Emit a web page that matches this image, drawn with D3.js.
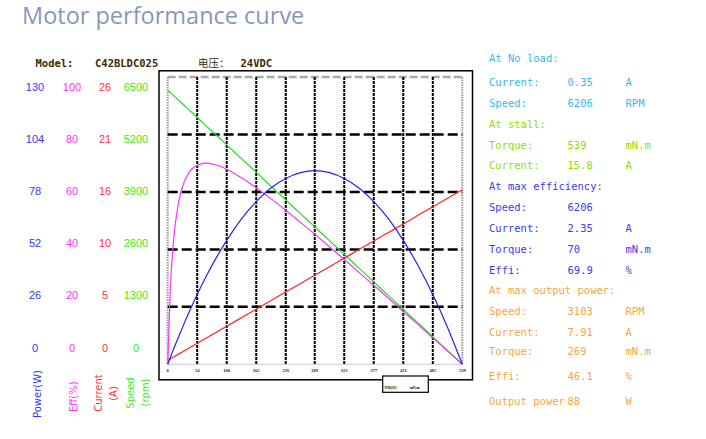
<!DOCTYPE html>
<html><head><meta charset="utf-8">
<script src="https://cdn.jsdelivr.net/npm/d3@7"></script>
<style>html,body{margin:0;padding:0;background:#fff;}svg{display:block;}</style>
</head><body>
<svg id="chart" width="706" height="439"></svg>
<script>
// ---- data ----
const torque      = [0,5,10,20,30,40,54,70,90,108,135,162,190,216,243,269,296,323,350,377,404,431,458,485,512,539];
const powerW      = [0,3.2,6.4,12.5,18.4,24.1,31.6,39.6,48.7,56.1,65.8,73.6,80.0,84.1,86.7,87.6,86.7,84.1,79.8,73.6,65.8,56.1,44.7,31.6,16.7,0];
const effPct      = [0,27.2,41.7,56.5,63.4,67.0,69.3,70.0,69.3,67.9,64.9,61.4,57.5,53.6,49.4,45.3,40.9,36.5,32.0,27.5,23.0,18.4,13.8,9.2,4.6,0];
const currentA    = [0.35,0.49,0.64,0.92,1.21,1.50,1.90,2.36,2.93,3.45,4.22,4.99,5.80,6.54,7.32,8.06,8.83,9.61,10.38,11.16,11.93,12.70,13.48,14.25,15.03,15.8];
const speedRpm    = [6206,6148,6091,5976,5861,5745,5584,5400,5170,4963,4652,4341,4018,3719,3408,3109,2798,2487,2176,1865,1554,1244,933,622,311,0];

const torqueTicks  = [0,54,108,162,216,269,323,377,431,485,539];
const powerTicks   = [0,26,52,78,104,130];
const effTicks     = [0,20,40,60,80,100];
const currentTicks = [0,5,10,16,21,26];
const speedTicks   = [0,1300,2600,3900,5200,6500];

const infoRows = [
  ["At No load:", "", "", "nl"],
  ["Current:", "0.35", "A", "nl"],
  ["Speed:", "6206", "RPM", "nl"],
  ["At stall:", "", "", "st"],
  ["Torque:", "539", "mN.m", "st"],
  ["Current:", "15.8", "A", "st"],
  ["At max efficiency:", "", "", "me"],
  ["Speed:", "6206", "", "me"],
  ["Current:", "2.35", "A", "me"],
  ["Torque:", "70", "mN.m", "me"],
  ["Effi:", "69.9", "%", "me"],
  ["At max output power:", "", "", "mp"],
  ["Speed:", "3103", "RPM", "mp"],
  ["Current:", "7.91", "A", "mp"],
  ["Torque:", "269", "mN.m", "mp"],
  ["Effi:", "46.1", "%", "mp"],
  ["Output power", "88", "W", "mp"]
];
const infoY = [58,82,103,124,145,165.5,186.5,207,228,249,270,290.5,311,332,351.5,376,401.5];

// ---- styles ----
const C = {power:"#3333ff", eff:"#ff33ff", cur:"#ff3333", spd:"#33ee11",
           lpower:"#2222ee", leff:"#ff33ff", lcur:"#ff2222", lspd:"#22dd22",
           nl:"#33bbee", st:"#8ce000", me:"#3b3bf0", mp:"#f5a640"};

const svg = d3.select("#chart");

// title
svg.append("text").attr("x",22).attr("y",24)
  .attr("font-family","'Open Sans','Noto Sans',sans-serif").attr("font-size",23.5)
  .attr("fill","#8597bf").text("Motor performance curve");

// model line
const mono = "'DejaVu Sans Mono','Liberation Mono',monospace";
const head = svg.append("g").attr("font-family",mono).attr("font-size",10.5)
  .attr("font-weight","bold").attr("fill","#3a2a05");
head.append("text").attr("x",35.5).attr("y",66.5).text("Model:");
head.append("text").attr("x",95).attr("y",66.5).text("C42BLDC025");
head.append("text").attr("x",198).attr("y",66.5).attr("font-family","'Noto Sans CJK SC',sans-serif").attr("font-weight","normal").text("电压：");
head.append("text").attr("x",240.5).attr("y",66.5).text("24VDC");

// outer frame
svg.append("rect").attr("x",159).attr("y",70.8).attr("width",313.5).attr("height",309)
  .attr("fill","none").attr("stroke","#000").attr("stroke-width",1.5);

// scales
const x0 = 167.7, x1 = 462.3, yb = 364.3, yt = 77;
const x = d3.scaleLinear().domain([0,539]).range([x0,x1]);
const yP = d3.scaleLinear().domain([0,130]).range([yb,yt]);
const yE = d3.scaleLinear().domain([0,100]).range([yb,yt]);
const yC = d3.scaleLinear().domain([0,26]).range([yb,yt]);
const yS = d3.scaleLinear().domain([0,6500]).range([yb,yt]);

// plot borders (grey)
svg.append("line").attr("x1",x0).attr("x2",x1).attr("y1",yt).attr("y2",yt)
  .attr("stroke","#aaa").attr("stroke-width",2.5).attr("stroke-dasharray","8,3");
svg.append("line").attr("x1",x0).attr("x2",x1).attr("y1",yb).attr("y2",yb)
  .attr("stroke","#ccc").attr("stroke-width",1);
[x0,x1].forEach(xx=>svg.append("line").attr("x1",xx).attr("x2",xx).attr("y1",yt).attr("y2",yb)
  .attr("stroke","#999").attr("stroke-width",2).attr("stroke-dasharray","1.5,1"));

// vertical grid
svg.append("g").selectAll("line").data(torqueTicks.slice(1,-1)).join("line")
  .attr("x1",d=>x(d)).attr("x2",d=>x(d)).attr("y1",yt).attr("y2",yb)
  .attr("stroke","#000").attr("stroke-width",2).attr("stroke-dasharray","3,1");
// horizontal grid
svg.append("g").selectAll("line").data(powerTicks.slice(1,-1)).join("line")
  .attr("x1",x0).attr("x2",x1).attr("y1",d=>yP(d)).attr("y2",d=>yP(d))
  .attr("stroke","#000").attr("stroke-width",2.5).attr("stroke-dasharray","10,4");

// torque tick labels
svg.append("g").selectAll("text").data(torqueTicks).join("text")
  .attr("x",d=>x(d)).attr("y",372.3).attr("text-anchor","middle")
  .attr("font-family","'Liberation Serif',serif").attr("font-size",4.5).attr("font-weight","bold")
  .attr("fill","#222").text(d=>d);

// torque box
svg.append("rect").attr("x",382.7).attr("y",376).attr("width",45.6).attr("height",16.3)
  .attr("fill","#fff").attr("stroke","#000").attr("stroke-width",1.2);
const tb = svg.append("g").attr("font-family","'Liberation Serif',serif")
  .attr("font-size",4).attr("font-weight","bold").attr("fill","#000");
tb.append("text").attr("x",384.2).attr("y",388.6).attr("textLength",13.3).attr("lengthAdjust","spacingAndGlyphs").text("TORQUE:");
tb.append("text").attr("x",410).attr("y",388.6).attr("textLength",9.5).attr("lengthAdjust","spacingAndGlyphs").text("mN.m");

// curves
const series = [
  {v:speedRpm, y:yS, c:C.lspd},
  {v:currentA, y:yC, c:C.lcur},
  {v:effPct,   y:yE, c:C.leff},
  {v:powerW,   y:yP, c:C.lpower}
];
series.forEach(s=>{
  const line = d3.line().x((d,i)=>x(torque[i])).y(d=>s.y(d)).curve(d3.curveMonotoneX);
  svg.append("path").attr("d",line(s.v)).attr("fill","none")
    .attr("stroke",s.c).attr("stroke-width",1.2);
});

// left axis labels
const yL = d3.scaleLinear().domain([0,5]).range([351.5,90.5]);
const cols = [
  {t:powerTicks, x:35, c:C.power},
  {t:effTicks, x:72, c:C.eff},
  {t:currentTicks, x:105, c:C.cur},
  {t:speedTicks, x:136, c:C.spd}
];
cols.forEach(col=>{
  svg.append("g").selectAll("text").data(col.t).join("text")
    .attr("x",col.x).attr("y",(d,i)=>yL(i)).attr("text-anchor","middle")
    .attr("font-family","'Liberation Sans',Arial,sans-serif").attr("font-size",11)
    .attr("fill",col.c).text(d=>d);
});

// rotated axis titles
const titles = [
  {t:"Power(W)", x:37, y:394, c:C.power},
  {t:"Eff(%)", x:73.7, y:396.7, c:C.eff},
  {t:"Current", x:98.3, y:393, c:C.cur},
  {t:"(A)", x:113, y:393.5, c:C.cur},
  {t:"Speed", x:130, y:393, c:C.spd},
  {t:"(rpm)", x:145.7, y:392.5, c:C.spd}
];
titles.forEach(t=>{
  svg.append("text").attr("transform",`translate(${t.x+3.5},${t.y}) rotate(-90)`)
    .attr("text-anchor","middle").attr("font-family","'DejaVu Sans',sans-serif")
    .attr("font-size",10).attr("fill",t.c).text(t.t);
});

// info panel
const info = svg.append("g").attr("font-family",mono).attr("font-size",10.5);
infoRows.forEach((r,i)=>{
  const yy = infoY[i]+3.5;
  info.append("text").attr("x",489).attr("y",yy).attr("fill",C[r[3]]).attr("xml:space","preserve").text(r[0]);
  if (r[1]) info.append("text").attr("x",567.5).attr("y",yy).attr("fill",C[r[3]]).text(r[1]);
  if (r[2]) info.append("text").attr("x",625.5).attr("y",yy).attr("fill",C[r[3]]).text(r[2]);
});
</script>
</body></html>
